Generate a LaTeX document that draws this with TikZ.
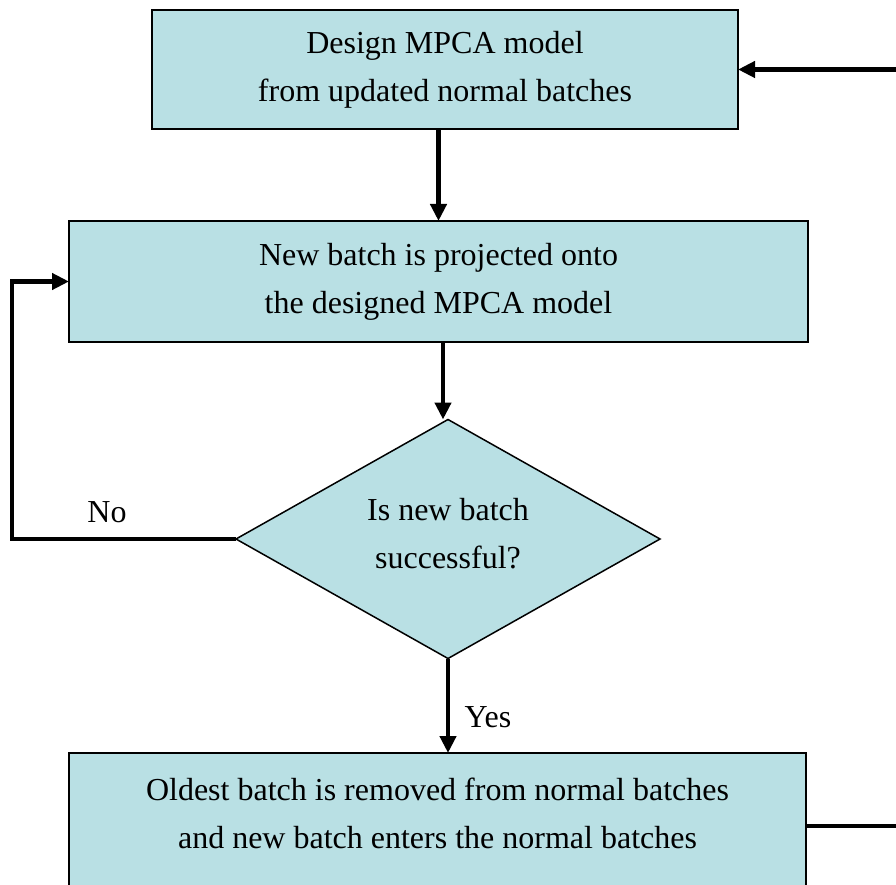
\documentclass[tikz,border=0pt]{standalone}
\usepackage{fontspec}
\setmainfont{Liberation Serif}
\usetikzlibrary{shapes.geometric,arrows.meta}
\definecolor{boxfill}{RGB}{185,224,228}
\begin{document}
\begin{tikzpicture}[x=1pt,y=-1pt,
  box/.style={draw=black,line width=1.8pt,fill=boxfill,inner sep=0pt,outer sep=0pt,align=center,font=\fontsize{32}{48}\selectfont},
  dia/.style={draw=black,line width=1.5pt,fill=boxfill,shape=diamond,inner sep=0pt,outer sep=0pt,minimum width=424pt,minimum height=239pt,shape aspect=1.774,align=center,font=\fontsize{32}{48}\selectfont},
  conn/.style={line width=4.2pt,-{Triangle[length=17pt,width=16pt]}},
  lbl/.style={font=\fontsize{32}{48}\selectfont,inner sep=0pt}]
\clip (0,0) rectangle (896,885);
\fill[white] (0,0) rectangle (896,885);
\node[box,minimum width=586pt,minimum height=119pt] (b1) at (445,69.5) {Design MPCA model\\from updated normal batches};
\node[box,minimum width=739pt,minimum height=121pt] (b2) at (438.5,281.5) {New batch is projected onto\\the designed MPCA model};
\node[dia] (d) at (448,539) {};
\node[lbl,align=center] (dt) at (448,534) {Is new batch\\successful?};
\node[box,minimum width=737pt,minimum height=150pt,anchor=north] (b3) at (437.5,753) {};
\node[lbl,align=center] (b3t) at (437.5,813) {Oldest batch is removed from normal batches\\and new batch enters the normal batches};
\node[lbl] (no) at (107,512) {No};
\node[lbl] (yes) at (488,717) {Yes};
\coordinate (r3) at (b3.east |- 0,826);
\coordinate (rc) at (910,826);
\coordinate (lc) at (12,539);
\draw[conn] (b1.south -| b2.north) -- (b2.north);
\draw[conn] ([xshift=4.5pt]b2.south) -- ([xshift=4.5pt]b2.south |- d.north);
\draw[conn] (d.south) -- (d.south |- b3.north);
\draw[conn] (d.west) -- (lc |- d.west) -- (lc |- b2.west) -- (b2.west);
\draw[conn] (r3) -- (rc) -- (rc |- b1.east) -- (b1.east);
\end{tikzpicture}
\end{document}
